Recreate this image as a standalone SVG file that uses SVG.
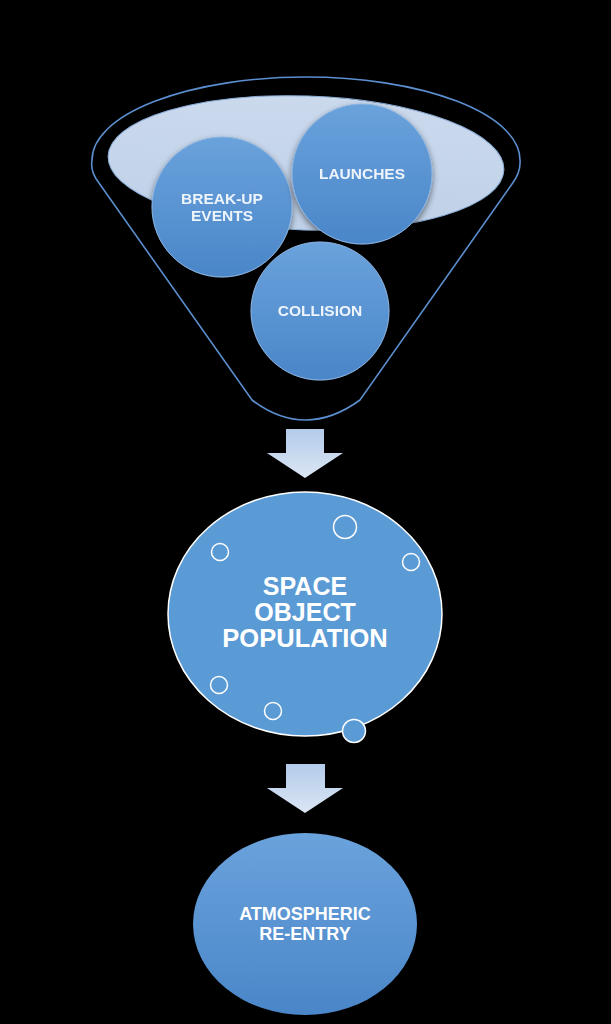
<svg xmlns="http://www.w3.org/2000/svg" width="611" height="1024" viewBox="0 0 611 1024">
<defs>
<linearGradient id="ballGrad" x1="0" y1="0" x2="0" y2="1">
<stop offset="0" stop-color="#6aa2dc"/>
<stop offset="1" stop-color="#4a86c8"/>
</linearGradient>
<linearGradient id="arrowGrad" x1="0" y1="0" x2="0" y2="1">
<stop offset="0" stop-color="#b3cbea"/>
<stop offset="1" stop-color="#dbe6f4"/>
</linearGradient>
<linearGradient id="ovalGrad" x1="0" y1="0" x2="0" y2="1">
<stop offset="0" stop-color="#cbd9ed"/>
<stop offset="1" stop-color="#bfd1e8"/>
</linearGradient>
<filter id="shadow" x="-20%" y="-20%" width="140%" height="150%">
<feGaussianBlur in="SourceAlpha" stdDeviation="3"/>
<feOffset dx="0" dy="3" result="b"/>
<feComponentTransfer><feFuncA type="linear" slope="0.5"/></feComponentTransfer>
<feMerge><feMergeNode/><feMergeNode in="SourceGraphic"/></feMerge>
</filter>
</defs>
<style>
.ball{fill:url(#ballGrad);stroke:#8db5e2;stroke-width:1;}
.lbl{font-family:"Liberation Sans",Arial,sans-serif;font-weight:bold;fill:#ffffff;text-anchor:middle;}
.small{font-size:15.5px;fill:#eef4fb;}
.bubble{fill:none;stroke:#ffffff;stroke-width:1.5;}
.arrow{fill:url(#arrowGrad);}
</style>
<rect x="0" y="0" width="611" height="1024" fill="#000000"/>

<g id="funnel">
<path d="M 99,183 Q 90,172 92,160 A 214 83 0 0 1 520,160 Q 521,172 512,184 L 360,400 Q 305,440 252,400 L 99,183 Z" fill="none" stroke="#5b8fcf" stroke-width="1.6"/>
<ellipse cx="306" cy="163" rx="198" ry="67" transform="rotate(2 306 163)" fill="url(#ovalGrad)" stroke="#8aaed8" stroke-width="1"/>
</g>

<g id="node-breakup" filter="url(#shadow)">
<circle class="ball" cx="222" cy="207" r="70"/>
<text class="lbl small" x="222" y="204">BREAK-UP</text>
<text class="lbl small" x="222" y="221">EVENTS</text>
</g>
<g id="node-launches" filter="url(#shadow)">
<circle class="ball" cx="362" cy="174" r="70"/>
<text class="lbl small" x="362" y="179">LAUNCHES</text>
</g>
<g id="node-collision" filter="url(#shadow)">
<circle class="ball" cx="320" cy="311" r="69"/>
<text class="lbl small" x="320" y="316">COLLISION</text>
</g>

<g id="connectors">
<path class="arrow" d="M 286,429 L 324,429 L 324,453 L 343,453 L 305,478 L 267,453 L 286,453 Z"/>
<path class="arrow" d="M 286,764 L 325,764 L 325,788 L 343,788 L 305,813 L 267,788 L 286,788 Z"/>
</g>

<g id="node-population">
<ellipse cx="305" cy="614" rx="137" ry="122" fill="#5b9bd5" stroke="#ffffff" stroke-width="1.5"/>
<circle class="bubble" cx="345" cy="527" r="11.5"/>
<circle class="bubble" cx="220" cy="552" r="8.5"/>
<circle class="bubble" cx="411" cy="562" r="8.5"/>
<circle class="bubble" cx="219" cy="685" r="8.5"/>
<circle class="bubble" cx="273" cy="711" r="8.5"/>
<circle cx="354" cy="731" r="11.5" fill="#5b9bd5" stroke="#ffffff" stroke-width="1.5"/>
<text class="lbl" x="305" y="595" font-size="25">SPACE</text>
<text class="lbl" x="305" y="621" font-size="25">OBJECT</text>
<text class="lbl" x="305" y="647" font-size="25.5">POPULATION</text>
</g>

<g id="node-reentry">
<ellipse cx="305" cy="924" rx="112" ry="91" fill="url(#ballGrad)"/>
<text class="lbl" x="305" y="920" font-size="18">ATMOSPHERIC</text>
<text class="lbl" x="305" y="940" font-size="18">RE-ENTRY</text>
</g>
</svg>
